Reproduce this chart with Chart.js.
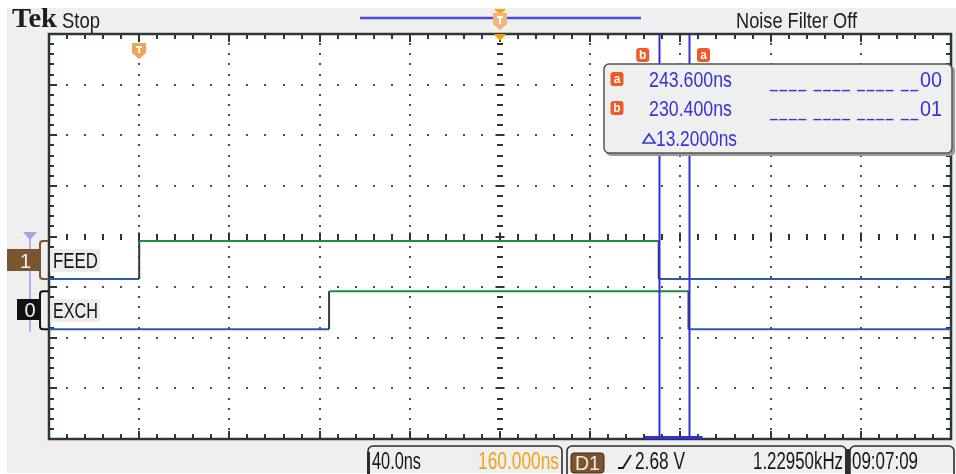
<!DOCTYPE html>
<html>
<head>
<meta charset="utf-8">
<script src="https://cdn.jsdelivr.net/npm/chart.js@4.4.1/dist/chart.umd.min.js"></script>
<style>
  html, body { margin: 0; padding: 0; background: #ffffff; }
  canvas { display: block; }
</style>
</head>
<body>
<canvas id="scope" width="956" height="474"></canvas>
<script>
// ---- capture data (time in ns, trigger at 0; 40 ns per division) ----
const timeRange     = [-40, 360];
const channelNames  = ['FEED', 'EXCH'];
const channelIds    = ['1', '0'];
const feedEdges     = [0, 230.4];
const feedLevels    = [0, 1, 0];
const exchEdges     = [84.2, 243.6];
const exchLevels    = [0, 1, 0];
const cursorTimes   = [243.6, 230.4];          // cursor a, cursor b
const cursorNames   = ['a', 'b'];
const busReadouts   = ['____ ____ ____ __00', '____ ____ ____ __01'];
const timePerDiv    = '40.0ns';
const horizPosition = '160.000ns';
const triggerSource = 'D1';
const triggerLevel  = '2.68 V';
const triggerFreq   = '1.22950kHz';
const clockTime     = '09:07:09';

// ---- display settings ----
const laneBase   = [3.16, 2.17];   // low level of each lane, in divisions
const laneHeight = 0.75;
const lowColor   = '#2a5ca4';
const highColor  = '#1f8c48';
const edgeColor  = '#3a3a3a';
const cursorBlue = '#3030d8';
const readBlue   = '#3535d2';
const iconOrange = '#f05a24';
const sansFamily = '"Liberation Sans", Arial, sans-serif';

function stepPoints(edges, levels, base) {
  const pts = [{ x: timeRange[0], y: base + levels[0] * laneHeight }];
  edges.forEach((t, i) => {
    pts.push({ x: t, y: base + levels[i] * laneHeight });
    pts.push({ x: t, y: base + levels[i + 1] * laneHeight });
  });
  pts.push({ x: timeRange[1], y: base + levels[levels.length - 1] * laneHeight });
  return pts;
}

function laneDataset(label, edges, levels, base) {
  return {
    label,
    data: stepPoints(edges, levels, base),
    borderWidth: 2,
    pointRadius: 0,
    tension: 0,
    borderColor: lowColor,
    segment: {
      borderColor: c => {
        if (c.p0.parsed.x === c.p1.parsed.x) return edgeColor;
        return c.p0.parsed.y > base + laneHeight / 2 ? highColor : lowColor;
      }
    }
  };
}

// draws text squeezed or stretched into [x0, x1]
function fitText(ctx, s, x0, x1, base, size, color, font, spacing) {
  ctx.save();
  ctx.font = font || (size + 'px ' + sansFamily);
  if (spacing) ctx.letterSpacing = spacing;
  const w = ctx.measureText(s).width;
  ctx.translate(x0, base);
  ctx.scale((x1 - x0) / w, 1);
  ctx.fillStyle = color;
  ctx.textAlign = 'left';
  ctx.textBaseline = 'alphabetic';
  ctx.fillText(s, 0, 0);
  ctx.restore();
}

function cursorIcon(ctx, cx, cy, letter) {
  ctx.save();
  ctx.fillStyle = iconOrange;
  ctx.beginPath();
  ctx.roundRect(cx - 6.5, cy - 7, 13, 14, 3);
  ctx.fill();
  ctx.fillStyle = '#ffffff';
  ctx.font = 'bold 12px ' + sansFamily;
  ctx.textAlign = 'center';
  ctx.textBaseline = 'middle';
  ctx.fillText(letter, cx, cy + 0.5);
  ctx.restore();
}

function statusFrame(ctx, x0, x1, top, lw) {
  ctx.save();
  ctx.strokeStyle = '#2e2e2e';
  ctx.lineWidth = lw;
  ctx.beginPath();
  ctx.moveTo(x0, 474);
  ctx.lineTo(x0, top + 5);
  ctx.arcTo(x0, top, x0 + 5, top, 5);
  ctx.lineTo(x1 - 5, top);
  ctx.arcTo(x1, top, x1, top + 5, 5);
  ctx.lineTo(x1, 474);
  ctx.stroke();
  ctx.restore();
}

const screenPlugin = {
  id: 'screen',
  beforeDraw(chart) {
    const ctx = chart.ctx;
    ctx.save();
    ctx.fillStyle = '#ffffff';
    ctx.fillRect(0, 0, chart.width, chart.height);
    ctx.fillStyle = '#efefef';
    ctx.fillRect(7, 8, chart.width - 7, 465);
    ctx.restore();
  },
  beforeDatasetsDraw(chart) {
    const { ctx, chartArea: a } = chart;
    const xs = chart.scales.x, ys = chart.scales.y;
    const px = d => xs.getPixelForValue(timeRange[0] + d * 40);   // d in divisions
    const py = d => ys.getPixelForValue(d);
    ctx.save();
    ctx.fillStyle = '#ffffff';
    ctx.fillRect(a.left, a.top, a.right - a.left, a.bottom - a.top);

    // dotted graticule
    ctx.fillStyle = '#4e4e4e';
    for (let i = 1; i < 10; i++) {
      if (i === 5) continue;
      const x = Math.round(px(i));
      for (let k = 1; k < 40; k++) ctx.fillRect(x - 1, Math.round(py(k / 5)) - 1, 2, 2);
    }
    for (let j = 1; j < 8; j++) {
      if (j === 4) continue;
      const y = Math.round(py(j));
      for (let k = 1; k < 50; k++) ctx.fillRect(Math.round(px(k / 5)) - 1, y - 1, 2, 2);
    }

    // centre cross with minor ticks
    ctx.fillStyle = '#333333';
    const cx = Math.round(px(5)), cy = Math.round(py(4));
    for (let k = 1; k < 50; k++) {
      const len = k % 5 === 0 ? 9 : 6;
      ctx.fillRect(Math.round(px(k / 5)) - 1, cy - len / 2, 2, len);
    }
    for (let k = 1; k < 40; k++) {
      const len = k % 5 === 0 ? 9 : 6;
      ctx.fillRect(cx - len / 2, Math.round(py(k / 5)) - 1, len, 2);
    }

    // edge ticks
    for (let k = 1; k < 50; k++) {
      const x = Math.round(px(k / 5));
      const len = k % 5 === 0 ? 8 : 5;
      ctx.fillRect(x - 1, a.top, 2, len);
      ctx.fillRect(x - 1, a.bottom - len, 2, len);
    }
    for (let k = 1; k < 40; k++) {
      const y = Math.round(py(k / 5));
      const len = k % 5 === 0 ? 8 : 5;
      ctx.fillRect(a.left, y - 1, len, 2);
      ctx.fillRect(a.right - len, y - 1, len, 2);
    }

    // frame
    ctx.strokeStyle = '#2c3838';
    ctx.lineWidth = 2.5;
    ctx.strokeRect(a.left, a.top, a.right - a.left, a.bottom - a.top);
    ctx.restore();
  },
  afterDatasetsDraw(chart) {
    const { ctx, chartArea: a } = chart;
    const xs = chart.scales.x;
    ctx.save();
    ctx.strokeStyle = cursorBlue;
    ctx.lineWidth = 2;
    cursorTimes.forEach(t => {
      const x = Math.round(xs.getPixelForValue(t)) + 0.5;
      ctx.beginPath();
      ctx.moveTo(x, a.top + 1);
      ctx.lineTo(x, a.bottom - 1);
      ctx.stroke();
    });
    const xa = xs.getPixelForValue(Math.max(...cursorTimes));
    const xb = xs.getPixelForValue(Math.min(...cursorTimes));
    ctx.fillStyle = cursorBlue;
    ctx.fillRect(xb - 14, a.bottom - 3, xa - xb + 28, 3);
    ctx.restore();
  },
  afterDraw(chart) {
    const { ctx, chartArea: a } = chart;
    const xs = chart.scales.x, ys = chart.scales.y;
    ctx.save();

    // ---- header ----
    fitText(ctx, 'Tek', 12, 57, 27, 27, '#1e1e1e', 'bold 27px "Liberation Serif", "Times New Roman", serif');
    fitText(ctx, 'Stop', 62, 100, 28, 22, '#1e1e1e');
    fitText(ctx, 'Noise Filter Off', 736, 857, 28, 22, '#1e1e1e');

    // record view bar with position markers
    ctx.strokeStyle = '#4c4ce0';
    ctx.lineWidth = 2.5;
    ctx.beginPath(); ctx.moveTo(360, 18); ctx.lineTo(641, 18); ctx.stroke();
    const mid = Math.round(xs.getPixelForValue((timeRange[0] + timeRange[1]) / 2));
    ctx.fillStyle = '#f5a31a';
    ctx.beginPath(); ctx.moveTo(mid - 6, 9); ctx.lineTo(mid + 6, 9); ctx.lineTo(mid, 15); ctx.closePath(); ctx.fill();
    ctx.fillStyle = '#f0b577';
    ctx.beginPath();
    ctx.moveTo(mid - 7, 13); ctx.lineTo(mid + 7, 13); ctx.lineTo(mid + 7, 24); ctx.lineTo(mid, 30); ctx.lineTo(mid - 7, 24);
    ctx.closePath(); ctx.fill();
    ctx.fillStyle = '#ffffff';
    ctx.fillRect(mid - 3, 16, 6, 2); ctx.fillRect(mid - 1, 16, 2, 8);
    ctx.fillStyle = '#f5a300';
    ctx.beginPath(); ctx.moveTo(mid - 6, a.top); ctx.lineTo(mid + 6, a.top); ctx.lineTo(mid, a.top + 7); ctx.closePath(); ctx.fill();

    // trigger point marker
    const tx = Math.round(xs.getPixelForValue(0));
    ctx.fillStyle = '#f0a458';
    ctx.beginPath();
    ctx.moveTo(tx - 7, 43); ctx.lineTo(tx + 7, 43); ctx.lineTo(tx + 7, 53); ctx.lineTo(tx, 59); ctx.lineTo(tx - 7, 53);
    ctx.closePath(); ctx.fill();
    ctx.fillStyle = '#ffffff';
    ctx.fillRect(tx - 3, 46, 6, 2); ctx.fillRect(tx - 1, 46, 2, 7);

    // cursor tags above the graticule
    const xA = xs.getPixelForValue(cursorTimes[0]);
    const xB = xs.getPixelForValue(cursorTimes[1]);
    cursorIcon(ctx, xB - 16, 55, cursorNames[1]);
    cursorIcon(ctx, xA + 15, 55, cursorNames[0]);

    // ---- cursor readout panel ----
    ctx.fillStyle = '#9a9a9a';
    ctx.beginPath(); ctx.roundRect(606, 66, 349, 90, 5); ctx.fill();
    ctx.fillStyle = '#efefef';
    ctx.strokeStyle = '#555555';
    ctx.lineWidth = 1.5;
    ctx.beginPath(); ctx.roundRect(604, 64, 348, 89, 5); ctx.fill(); ctx.stroke();
    const rows = [79, 108];
    cursorTimes.forEach((t, i) => {
      cursorIcon(ctx, 617, rows[i], cursorNames[i]);
      fitText(ctx, t.toFixed(3) + 'ns', 649, 732, rows[i] + 8, 22, readBlue);
      // bus value: unknown bits shown as separated dashes, known bits as digits
      const cut = busReadouts[i].lastIndexOf('_') + 1;
      fitText(ctx, busReadouts[i].slice(0, cut), 770, 920, rows[i] + 8, 22, readBlue, null, '3px');
      fitText(ctx, busReadouts[i].slice(cut), 920, 942, rows[i] + 8, 22, readBlue);
    });
    // delta glyph + difference
    ctx.strokeStyle = readBlue;
    ctx.lineWidth = 1.6;
    ctx.beginPath(); ctx.moveTo(643, 143); ctx.lineTo(649, 134); ctx.lineTo(655, 143); ctx.closePath(); ctx.stroke();
    const delta = Math.abs(cursorTimes[0] - cursorTimes[1]);
    fitText(ctx, delta.toFixed(4) + 'ns', 656, 737, 146, 22, readBlue);

    // ---- channel labels ----
    ctx.strokeStyle = '#b0b0ee';
    ctx.lineWidth = 2;
    ctx.beginPath(); ctx.moveTo(30, 236); ctx.lineTo(30, 332); ctx.stroke();
    ctx.fillStyle = '#a4a4ea';
    ctx.beginPath(); ctx.moveTo(23, 232); ctx.lineTo(37, 232); ctx.lineTo(30, 240); ctx.closePath(); ctx.fill();

    const laneColors = ['#7b5430', '#121212'];
    const idBoxes = [[7, 249, 33, 22], [17, 299, 22, 21]];
    laneBase.forEach((b, i) => {
      const yLow = ys.getPixelForValue(b);
      const yHigh = ys.getPixelForValue(b + laneHeight);
      ctx.strokeStyle = laneColors[i];
      ctx.lineWidth = 2;
      ctx.beginPath();
      ctx.moveTo(48, yHigh); ctx.lineTo(43, yHigh); ctx.arcTo(40, yHigh, 40, yHigh + 3, 3);
      ctx.lineTo(40, yLow - 3); ctx.arcTo(40, yLow, 43, yLow, 3); ctx.lineTo(48, yLow);
      ctx.stroke();
      const [bx, by, bw, bh] = idBoxes[i];
      ctx.fillStyle = laneColors[i];
      ctx.fillRect(bx, by, bw, bh);
      ctx.fillStyle = '#f2f2f2';
      ctx.font = '20px ' + sansFamily;
      ctx.textAlign = 'center';
      ctx.textBaseline = 'alphabetic';
      ctx.fillText(channelIds[i], bx + bw / 2 + 2, by + bh - 3);
      // name tag
      const ty = (yLow + yHigh) / 2;
      ctx.fillStyle = '#ececec';
      ctx.fillRect(50, ty - 11, 50, 23);
      fitText(ctx, channelNames[i], 53, 98, ty + 8, 22, '#151515');
    });

    // ---- status bar ----
    statusFrame(ctx, 368, 562, 446, 1.6);
    statusFrame(ctx, 567, 846, 446, 1.6);
    statusFrame(ctx, 850, 954, 446, 1.6);
    ctx.fillStyle = '#2e2e2e';
    ctx.fillRect(845, 449, 5, 25);
    ctx.fillRect(367, 452, 3, 22);
    fitText(ctx, timePerDiv, 372, 421, 469, 23, '#161616');
    fitText(ctx, horizPosition, 478, 559, 469, 23, '#f0a21c');
    ctx.fillStyle = '#7b5430';
    ctx.strokeStyle = '#3a2a18';
    ctx.lineWidth = 1;
    ctx.beginPath(); ctx.roundRect(571, 453, 33, 20, 3); ctx.fill(); ctx.stroke();
    fitText(ctx, triggerSource, 575, 600, 470, 21, '#f2ead8');
    ctx.strokeStyle = '#161616';
    ctx.lineWidth = 1.8;
    ctx.beginPath(); ctx.moveTo(618, 468); ctx.lineTo(623, 468); ctx.lineTo(631, 455); ctx.stroke();
    fitText(ctx, triggerLevel, 635, 685, 469, 23, '#161616');
    fitText(ctx, triggerFreq, 753, 843, 469, 23, '#161616');
    fitText(ctx, clockTime, 852, 918, 469, 23, '#161616');

    ctx.restore();
  }
};

new Chart(document.getElementById('scope'), {
  type: 'line',
  data: {
    datasets: [
      laneDataset(channelNames[0], feedEdges, feedLevels, laneBase[0]),
      laneDataset(channelNames[1], exchEdges, exchLevels, laneBase[1])
    ]
  },
  options: {
    responsive: false,
    animation: false,
    devicePixelRatio: 1,
    layout: { padding: { left: 49, right: 5, top: 34, bottom: 35 } },
    scales: {
      x: { type: 'linear', min: timeRange[0], max: timeRange[1], display: false },
      y: { type: 'linear', min: 0, max: 8, display: false }
    },
    plugins: { legend: { display: false }, tooltip: { enabled: false } }
  },
  plugins: [screenPlugin]
});
</script>
</body>
</html>
